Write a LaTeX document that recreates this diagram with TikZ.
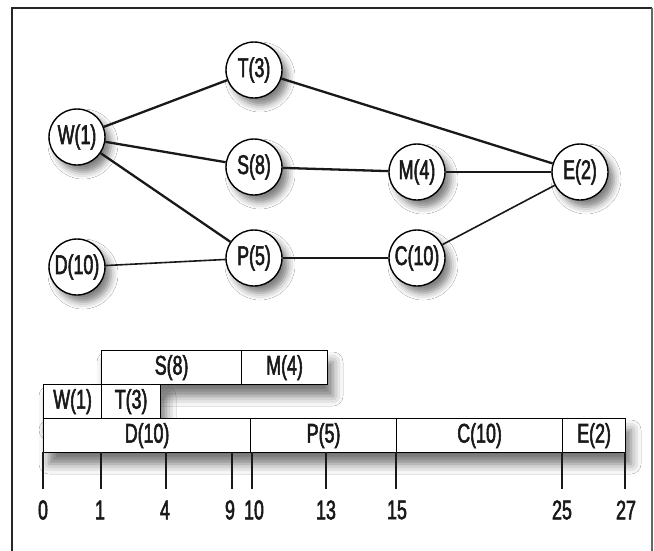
\documentclass[tikz,border=0pt]{standalone}
\usepackage{fontspec}
\setmainfont{Liberation Sans}
\newfontfamily\condfont{Liberation Sans}[FakeStretch=0.66, FakeBold=2]
\usetikzlibrary{shadows.blur}
\begin{document}
\begin{tikzpicture}[x=1pt,y=-1pt,
  lbl/.style={font=\condfont\fontsize{27}{27}\selectfont, text=black!90},
  task/.style={circle, draw=black, line width=1.4pt, fill=white, minimum size=56pt, inner sep=0pt, lbl,
    blur shadow={shadow xshift=6pt, shadow yshift=-7pt, shadow blur radius=7pt, shadow opacity=50}},
  thickedge/.style={line width=2.3pt, black!90},
  thinedge/.style={line width=1.6pt, black!90},
  gbox/.style={draw=black, line width=1.2pt, fill=white, anchor=north west, inner sep=0pt, minimum height=34pt, lbl},
  rowshadow/.style={fill=white, draw=none,
    blur shadow={shadow xshift=6pt, shadow yshift=-12pt, shadow blur radius=10pt, shadow opacity=55}},
  tickthick/.style={line width=2.2pt, black!90},
  tickthin/.style={line width=1.2pt, black!90},
]
\useasboundingbox (0,0) rectangle (654,550);
\fill[white] (0,0) rectangle (654,550);
% frame
\draw[line width=1.8pt, black!85] (12,551) -- (12,8) -- (652,8);
\draw[line width=1.4pt, black!60] (652,8) -- (652,551);

% network nodes
\node[task] (W) at (77,137) {W(1)};
\node[task] (T) at (254,70) {T(3)};
\node[task] (S) at (254,167) {S(8)};
\node[task] (P) at (254,258) {P(5)};
\node[task] (D) at (77,267) {D(10)};
\node[task] (M) at (417,172) {M(4)};
\node[task] (C) at (417,258) {C(10)};
\node[task] (E) at (580,172) {E(2)};

% edges
\draw[thickedge] (W) -- (T);
\draw[thickedge] (W) -- (S);
\draw[thickedge] (W) -- (P);
\draw[thickedge] (T) -- (E);
\draw[thickedge] (S) -- (M);
\draw[thickedge] (P) -- (C);
\draw[thinedge] (D) -- (P);
\draw[thinedge] (M) -- (E);
\draw[thinedge] (C) -- (E);

% gantt row shadows
\path[rowshadow] (101,350) rectangle (327,384);
\path[rowshadow] (43,384) rectangle (160,418);
\path[rowshadow] (43,418) rectangle (625,452);

% gantt boxes
\node[gbox, minimum width=140pt] (gS) at (101,350) {S(8)};
\node[gbox, minimum width=86pt] (gM) at (241,350) {M(4)};
\node[gbox, minimum width=58pt] (gW) at (43,384) {W(1)};
\node[gbox, minimum width=59pt] (gT) at (101,384) {T(3)};
\node[gbox, minimum width=207pt] (gD) at (43,418) {D(10)};
\node[gbox, minimum width=146pt] (gP) at (250,418) {P(5)};
\node[gbox, minimum width=166pt] (gC) at (396,418) {C(10)};
\node[gbox, minimum width=63pt] (gE) at (562,418) {E(2)};

% axis ticks
\coordinate (t0) at (43,452);   \coordinate (b0) at (43,489);
\coordinate (t1) at (101,452);  \coordinate (b1) at (101,489);
\coordinate (t4) at (166,452);  \coordinate (b4) at (166,489);
\coordinate (t9) at (232,452);  \coordinate (b9) at (232,489);
\coordinate (t10) at (252,452); \coordinate (b10) at (252,489);
\coordinate (t13) at (326,452); \coordinate (b13) at (326,489);
\coordinate (t15) at (396,452); \coordinate (b15) at (396,489);
\coordinate (t25) at (562,452); \coordinate (b25) at (562,489);
\coordinate (t27) at (625,452); \coordinate (b27) at (625,489);
\draw[tickthick] (t0) -- (b0);
\draw[tickthick] (t1) -- (b1);
\draw[tickthick] (t4) -- (b4);
\draw[tickthin] (t9) -- (b9);
\draw[tickthick] (t10) -- (b10);
\draw[tickthick] (t13) -- (b13);
\draw[tickthin] (t15) -- (b15);
\draw[tickthin] (t25) -- (b25);
\draw[tickthick] (t27) -- (b27);

% axis labels
\node[lbl] (l0) at (43,510) {0};
\node[lbl] (l1) at (100,510) {1};
\node[lbl] (l4) at (165,510) {4};
\node[lbl] (l9) at (230,510) {9};
\node[lbl] (l10) at (254,510) {10};
\node[lbl] (l13) at (326,510) {13};
\node[lbl] (l15) at (397,510) {15};
\node[lbl] (l25) at (562,510) {25};
\node[lbl] (l27) at (626,510) {27};
\end{tikzpicture}
\end{document}
